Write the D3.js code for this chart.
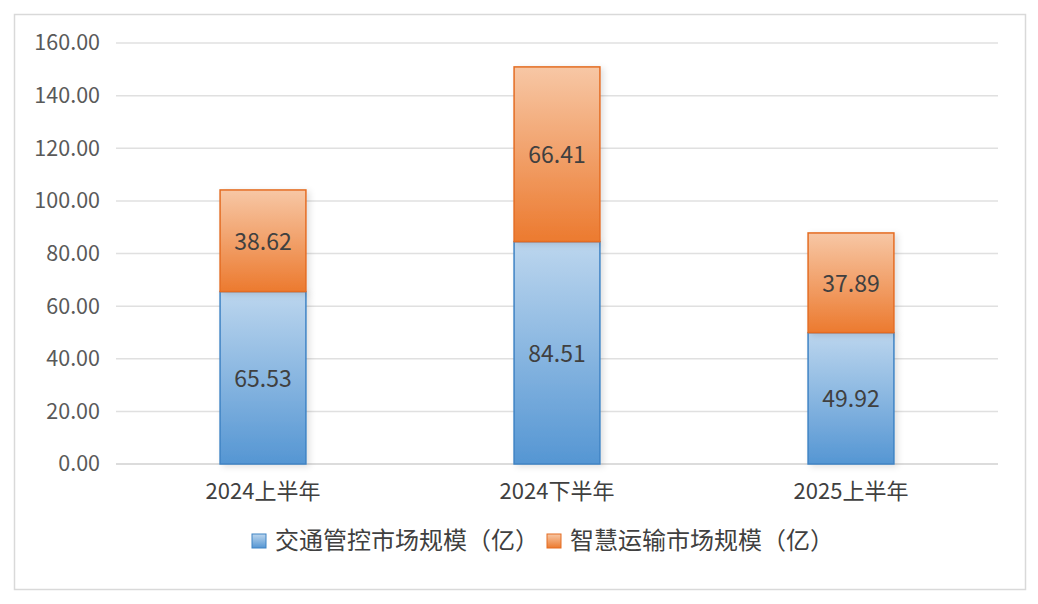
<!DOCTYPE html>
<html><head><meta charset="utf-8">
<script src="https://cdn.jsdelivr.net/npm/d3@7/dist/d3.min.js"></script>
<style>body{margin:0;background:#fff}svg{display:block}text{font-family:"Noto Sans CJK SC","Open Sans",sans-serif}</style>
</head><body><svg id="c" width="1038" height="604"></svg>
<script>
const categories = ["2024上半年","2024下半年","2025上半年"];
const seriesNames = ["交通管控市场规模（亿）","智慧运输市场规模（亿）"];
const traffic = [65.53, 84.51, 49.92];
const transport = [38.62, 66.41, 37.89];
const yTicks = [0,20,40,60,80,100,120,140,160];

const svg = d3.select("#c");
const defs = svg.append("defs");
function grad(id, top, bot){
  const g = defs.append("linearGradient").attr("id",id).attr("x1",0).attr("y1",0).attr("x2",0).attr("y2",1);
  g.append("stop").attr("offset","0%").attr("stop-color",top);
  g.append("stop").attr("offset","100%").attr("stop-color",bot);
}
grad("gBlue","#bcd6ee","#5596d3");
grad("gOrange","#f7c7a5","#ec7a2f");
const f = defs.append("filter").attr("id","sh").attr("x","-20%").attr("y","-20%").attr("width","150%").attr("height","150%");
f.append("feDropShadow").attr("dx",3).attr("dy",2).attr("stdDeviation",3).attr("flood-color","#000").attr("flood-opacity",0.12);

svg.append("rect").attr("x",14.5).attr("y",14.5).attr("width",1011).attr("height",575)
  .attr("fill","#fff").attr("stroke","#d9d9d9").attr("stroke-width",1.5);

const x = d3.scaleBand().domain(categories).range([116,998]).paddingInner(0.708).paddingOuter(0.354);
const y = d3.scaleLinear().domain([0,160]).range([464,43]);

// gridlines
svg.append("g").selectAll("line").data(yTicks).join("line")
  .attr("x1",116).attr("x2",998).attr("y1",d=>y(d)).attr("y2",d=>y(d))
  .attr("stroke",d=>d===0?"#d0d0d0":"#e0e0e0").attr("stroke-width",1.5);

// y axis labels
const yAxis = d3.axisLeft(y).tickValues(yTicks).tickFormat(d3.format(".2f")).tickSize(0).tickPadding(0);
const ya = svg.append("g").attr("transform","translate(100,0)").call(yAxis);
ya.select(".domain").remove();
ya.selectAll("text").attr("font-size",21.5).attr("fill","#595959").attr("font-family","'Open Sans','Noto Sans CJK SC',sans-serif");

// x axis labels
const xAxis = d3.axisBottom(x).tickSize(0).tickPadding(0);
const xa = svg.append("g").attr("transform","translate(0,483)").call(xAxis);
xa.select(".domain").remove();
xa.selectAll("text").attr("font-size",22).attr("fill","#404040");

// bars
const data = categories.map((c,i)=>({c, a:traffic[i], b:transport[i]}));
const g = svg.append("g");
g.selectAll(".ba").data(data).join("rect")
  .attr("x",d=>x(d.c)).attr("width",x.bandwidth())
  .attr("y",d=>y(d.a)).attr("height",d=>y(0)-y(d.a))
  .attr("fill","url(#gBlue)").attr("stroke","#3f83c4").attr("stroke-width",1.5).attr("filter","url(#sh)");
g.selectAll(".bb").data(data).join("rect")
  .attr("x",d=>x(d.c)).attr("width",x.bandwidth())
  .attr("y",d=>y(d.a+d.b)).attr("height",d=>y(d.a)-y(d.a+d.b))
  .attr("fill","url(#gOrange)").attr("stroke","#e46c22").attr("stroke-width",1.5).attr("filter","url(#sh)");

// labels
const lab = svg.append("g").attr("font-size",23).attr("fill","#404040").attr("text-anchor","middle")
  .attr("font-family","'Open Sans','Noto Sans CJK SC',sans-serif");
lab.selectAll(".la").data(data).join("text")
  .attr("x",d=>x(d.c)+x.bandwidth()/2).attr("y",d=>(y(0)+y(d.a))/2+1).attr("dy","0.35em")
  .text(d=>d3.format(".2f")(d.a));
lab.selectAll(".lb").data(data).join("text")
  .attr("x",d=>x(d.c)+x.bandwidth()/2).attr("y",d=>(y(d.a)+y(d.a+d.b))/2+1).attr("dy","0.35em")
  .text(d=>d3.format(".2f")(d.b));

// legend
const leg = svg.append("g");
const legItems = [{n:seriesNames[0],fill:"url(#gBlue)",st:"#3f83c4",x:252},{n:seriesNames[1],fill:"url(#gOrange)",st:"#e46c22",x:547}];
legItems.forEach(it=>{
  leg.append("rect").attr("x",it.x).attr("y",534).attr("width",14).attr("height",14)
    .attr("fill",it.fill).attr("stroke",it.st).attr("stroke-width",1);
  leg.append("text").attr("x",it.x+23).attr("y",541).attr("dy","0.35em")
    .attr("font-size",24).attr("fill","#404040").text(it.n);
});
</script></body></html>
